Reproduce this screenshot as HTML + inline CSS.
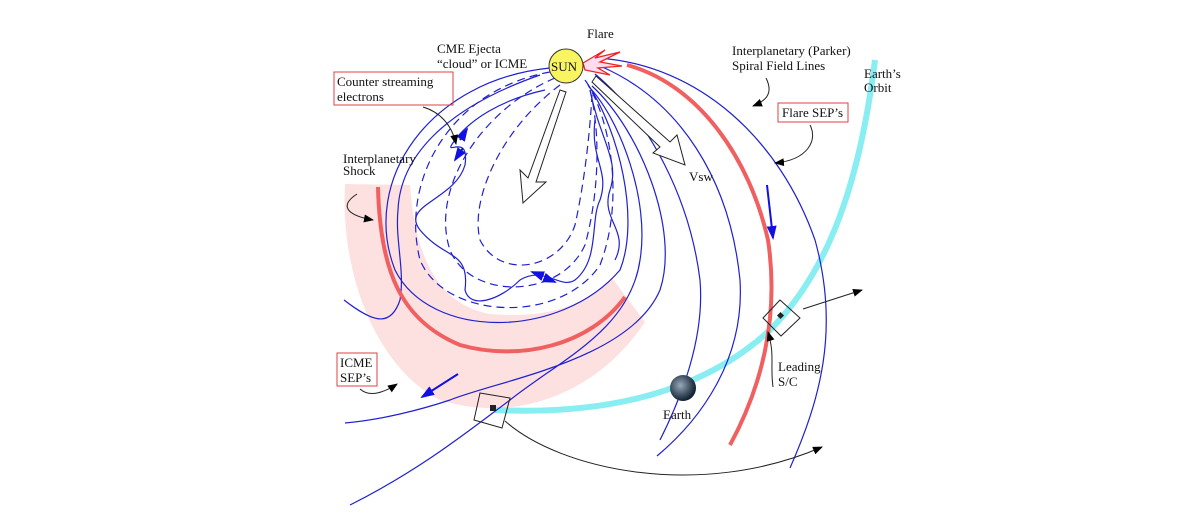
<!DOCTYPE html>
<html><head><meta charset="utf-8"><style>
html,body{margin:0;padding:0;background:#fff;}
svg{display:block;}
text{font-family:"Liberation Serif",serif;font-size:13px;fill:#111;}
</style></head><body>
<svg width="1200" height="526" viewBox="0 0 1200 526" xmlns="http://www.w3.org/2000/svg">
<defs>
<marker id="ah" markerWidth="10" markerHeight="8" refX="9" refY="4" orient="auto" markerUnits="userSpaceOnUse"><path d="M0,0 L10,4 L0,8 z" fill="#000"/></marker>
<marker id="bh" markerWidth="14" markerHeight="10" refX="12" refY="5" orient="auto" markerUnits="userSpaceOnUse"><path d="M0,0 L14,5 L0,10 z" fill="#1010e0"/></marker>
<radialGradient id="eg" cx="40%" cy="40%" r="60%"><stop offset="0" stop-color="#9ab"/><stop offset="0.6" stop-color="#456"/><stop offset="1" stop-color="#123"/></radialGradient>
</defs>
<!-- shock band -->
<path d="M345,184 C340,280 380,370 440,400 C520,425 600,390 645,322 L612,278 C580,310 540,318 490,314 C440,305 415,260 410,185 Z" fill="#fde0e0"/>
<!-- orbit -->
<path d="M495,410 C600,415 700,395 770,330 C830,270 860,180 875,60" fill="none" stroke="#88eef2" stroke-width="6"/>
<!-- CME cloud lines -->
<g fill="none" stroke="#2020d0" stroke-width="1.2">
<path d="M550,68 C430,80 360,180 395,270 C430,340 560,340 620,270 C640,220 620,130 585,80"/>
<path d="M550,72 C450,90 400,180 420,260 C445,320 560,325 600,265 C625,200 610,120 588,85" stroke-dasharray="8,5"/>
<path d="M555,78 C480,110 430,190 450,250 C470,300 560,300 585,245 C600,190 600,130 590,90" stroke-dasharray="8,5"/>
<path d="M560,85 C500,130 470,200 480,240 C500,280 560,270 575,225 C585,180 590,130 592,95" stroke-dasharray="8,5"/>
<path d="M545,90 C500,100 470,120 455,140 C440,160 470,130 465,165 C455,200 400,205 420,230 C445,260 470,250 465,290 C470,310 500,300 520,280 C545,265 560,290 575,280 C600,260 590,220 600,200 C610,170 590,160 595,120" />
<path d="M590,90 C600,140 620,160 610,190 C600,220 630,230 615,260"/>
<path d="M590,88 C620,120 650,200 640,260 C630,330 560,360 510,400 C470,430 420,470 350,505"/>
<path d="M592,86 C640,130 680,230 660,290 C630,360 500,380 450,400 C420,410 380,420 345,423"/>
<path d="M344,300 C370,320 390,330 400,300 C405,270 395,240 398,210 C400,160 440,110 540,75"/>
</g>
<!-- Parker spiral lines -->
<g fill="none" stroke="#2020d0" stroke-width="1.2">
<path d="M598,58 C700,65 780,140 815,240 C840,330 820,400 790,468"/>
<path d="M600,66 C680,100 730,180 740,280 C745,360 700,420 657,456"/>
<path d="M595,74 C650,120 690,200 700,280 C705,340 680,400 660,440"/>
</g>
<!-- red lines -->
<g fill="none" stroke="#f06060" stroke-width="4">
<path d="M627,65 C700,85 750,160 768,240 C780,320 760,390 730,445"/>
<path d="M378,187 C380,270 400,320 460,345 C520,362 590,345 625,297"/>
</g>
<!-- flare -->
<g fill="#fde" stroke="#e22" stroke-width="1.3">
<path d="M583,63 L605,50 L595,58 L620,52 L600,62 L622,66 L598,68 L610,75 L585,70 Z"/>
</g>
<!-- sun -->
<circle cx="566" cy="66" r="17" fill="#f8f560" stroke="#333" stroke-width="1"/>
<text x="551" y="71" style="font-size:13px">SUN</text>
<!-- big open arrows -->
<path d="M560,90 L528,178 L520,170 L523,203 L546,182 L536,182 L566,92 Z" fill="#fff" stroke="#222" stroke-width="1"/>
<path d="M592,82 L660,147 L653,153 L685,165 L677,135 L670,142 L596,76 Z" fill="#fff" stroke="#222" stroke-width="1"/>
<!-- blue arrows -->
<g stroke="#1010e0" stroke-width="2" fill="none">
<line x1="460" y1="140" x2="467" y2="129" marker-end="url(#bh)"/>
<line x1="463" y1="148" x2="455" y2="160" marker-end="url(#bh)"/>
<line x1="540" y1="275" x2="532" y2="272" marker-end="url(#bh)"/>
<line x1="545" y1="278" x2="555" y2="282" marker-end="url(#bh)"/>
<line x1="458" y1="374" x2="422" y2="397" marker-end="url(#bh)"/>
<line x1="767" y1="185" x2="773" y2="238" marker-end="url(#bh)"/>
</g>
<!-- spacecraft -->
<g fill="none" stroke="#222" stroke-width="1">
<path d="M480,393 L510,398 L502,428 L474,420 Z"/>
<path d="M780,300 L800,318 L781,336 L763,318 Z"/>
</g>
<rect x="490" y="405" width="6" height="6" fill="#222"/>
<rect x="778" y="313" width="5" height="5" fill="#222" transform="rotate(45 780.5 315.5)"/>
<!-- earth -->
<circle cx="683" cy="388" r="13" fill="url(#eg)"/>
<!-- black arrows -->
<g fill="none" stroke="#222" stroke-width="1">
<path d="M505,421 C560,470 700,500 822,447" marker-end="url(#ah)"/>
<line x1="803" y1="309" x2="862" y2="290" marker-end="url(#ah)"/>
<path d="M773,387 C770,365 775,355 768,332" marker-end="url(#ah)"/>
<path d="M357,194 C340,205 345,215 373,220" marker-end="url(#ah)"/>
<path d="M423,107 C440,112 452,125 456,144" marker-end="url(#ah)"/>
<path d="M360,389 C370,398 385,392 397,384" marker-end="url(#ah)"/>
<path d="M766,78 C773,92 768,100 753,106" marker-end="url(#ah)"/>
<path d="M810,125 C818,140 808,160 775,163" marker-end="url(#ah)"/>
</g>
<!-- labels -->
<text x="587" y="38">Flare</text>
<text x="437" y="53">CME Ejecta</text>
<text x="437" y="68">“cloud” or ICME</text>
<rect x="334" y="72" width="119" height="33" fill="none" stroke="#e04040" stroke-width="1"/>
<text x="337" y="86">Counter streaming</text>
<text x="337" y="101">electrons</text>
<text x="343" y="163">Interplanetary</text>
<text x="343" y="175">Shock</text>
<text x="732" y="55">Interplanetary (Parker)</text>
<text x="732" y="70">Spiral Field Lines</text>
<text x="864" y="78">Earth’s</text>
<text x="864" y="92">Orbit</text>
<rect x="778" y="103" width="70" height="19" fill="none" stroke="#e04040" stroke-width="1"/>
<text x="782" y="117">Flare SEP’s</text>
<text x="689" y="181">Vsw</text>
<rect x="337" y="353" width="40" height="33" fill="none" stroke="#e04040" stroke-width="1"/>
<text x="340" y="367">ICME</text>
<text x="340" y="382">SEP’s</text>
<text x="778" y="371">Leading</text>
<text x="778" y="386">S/C</text>
<text x="663" y="419">Earth</text>
</svg>
</body></html>
